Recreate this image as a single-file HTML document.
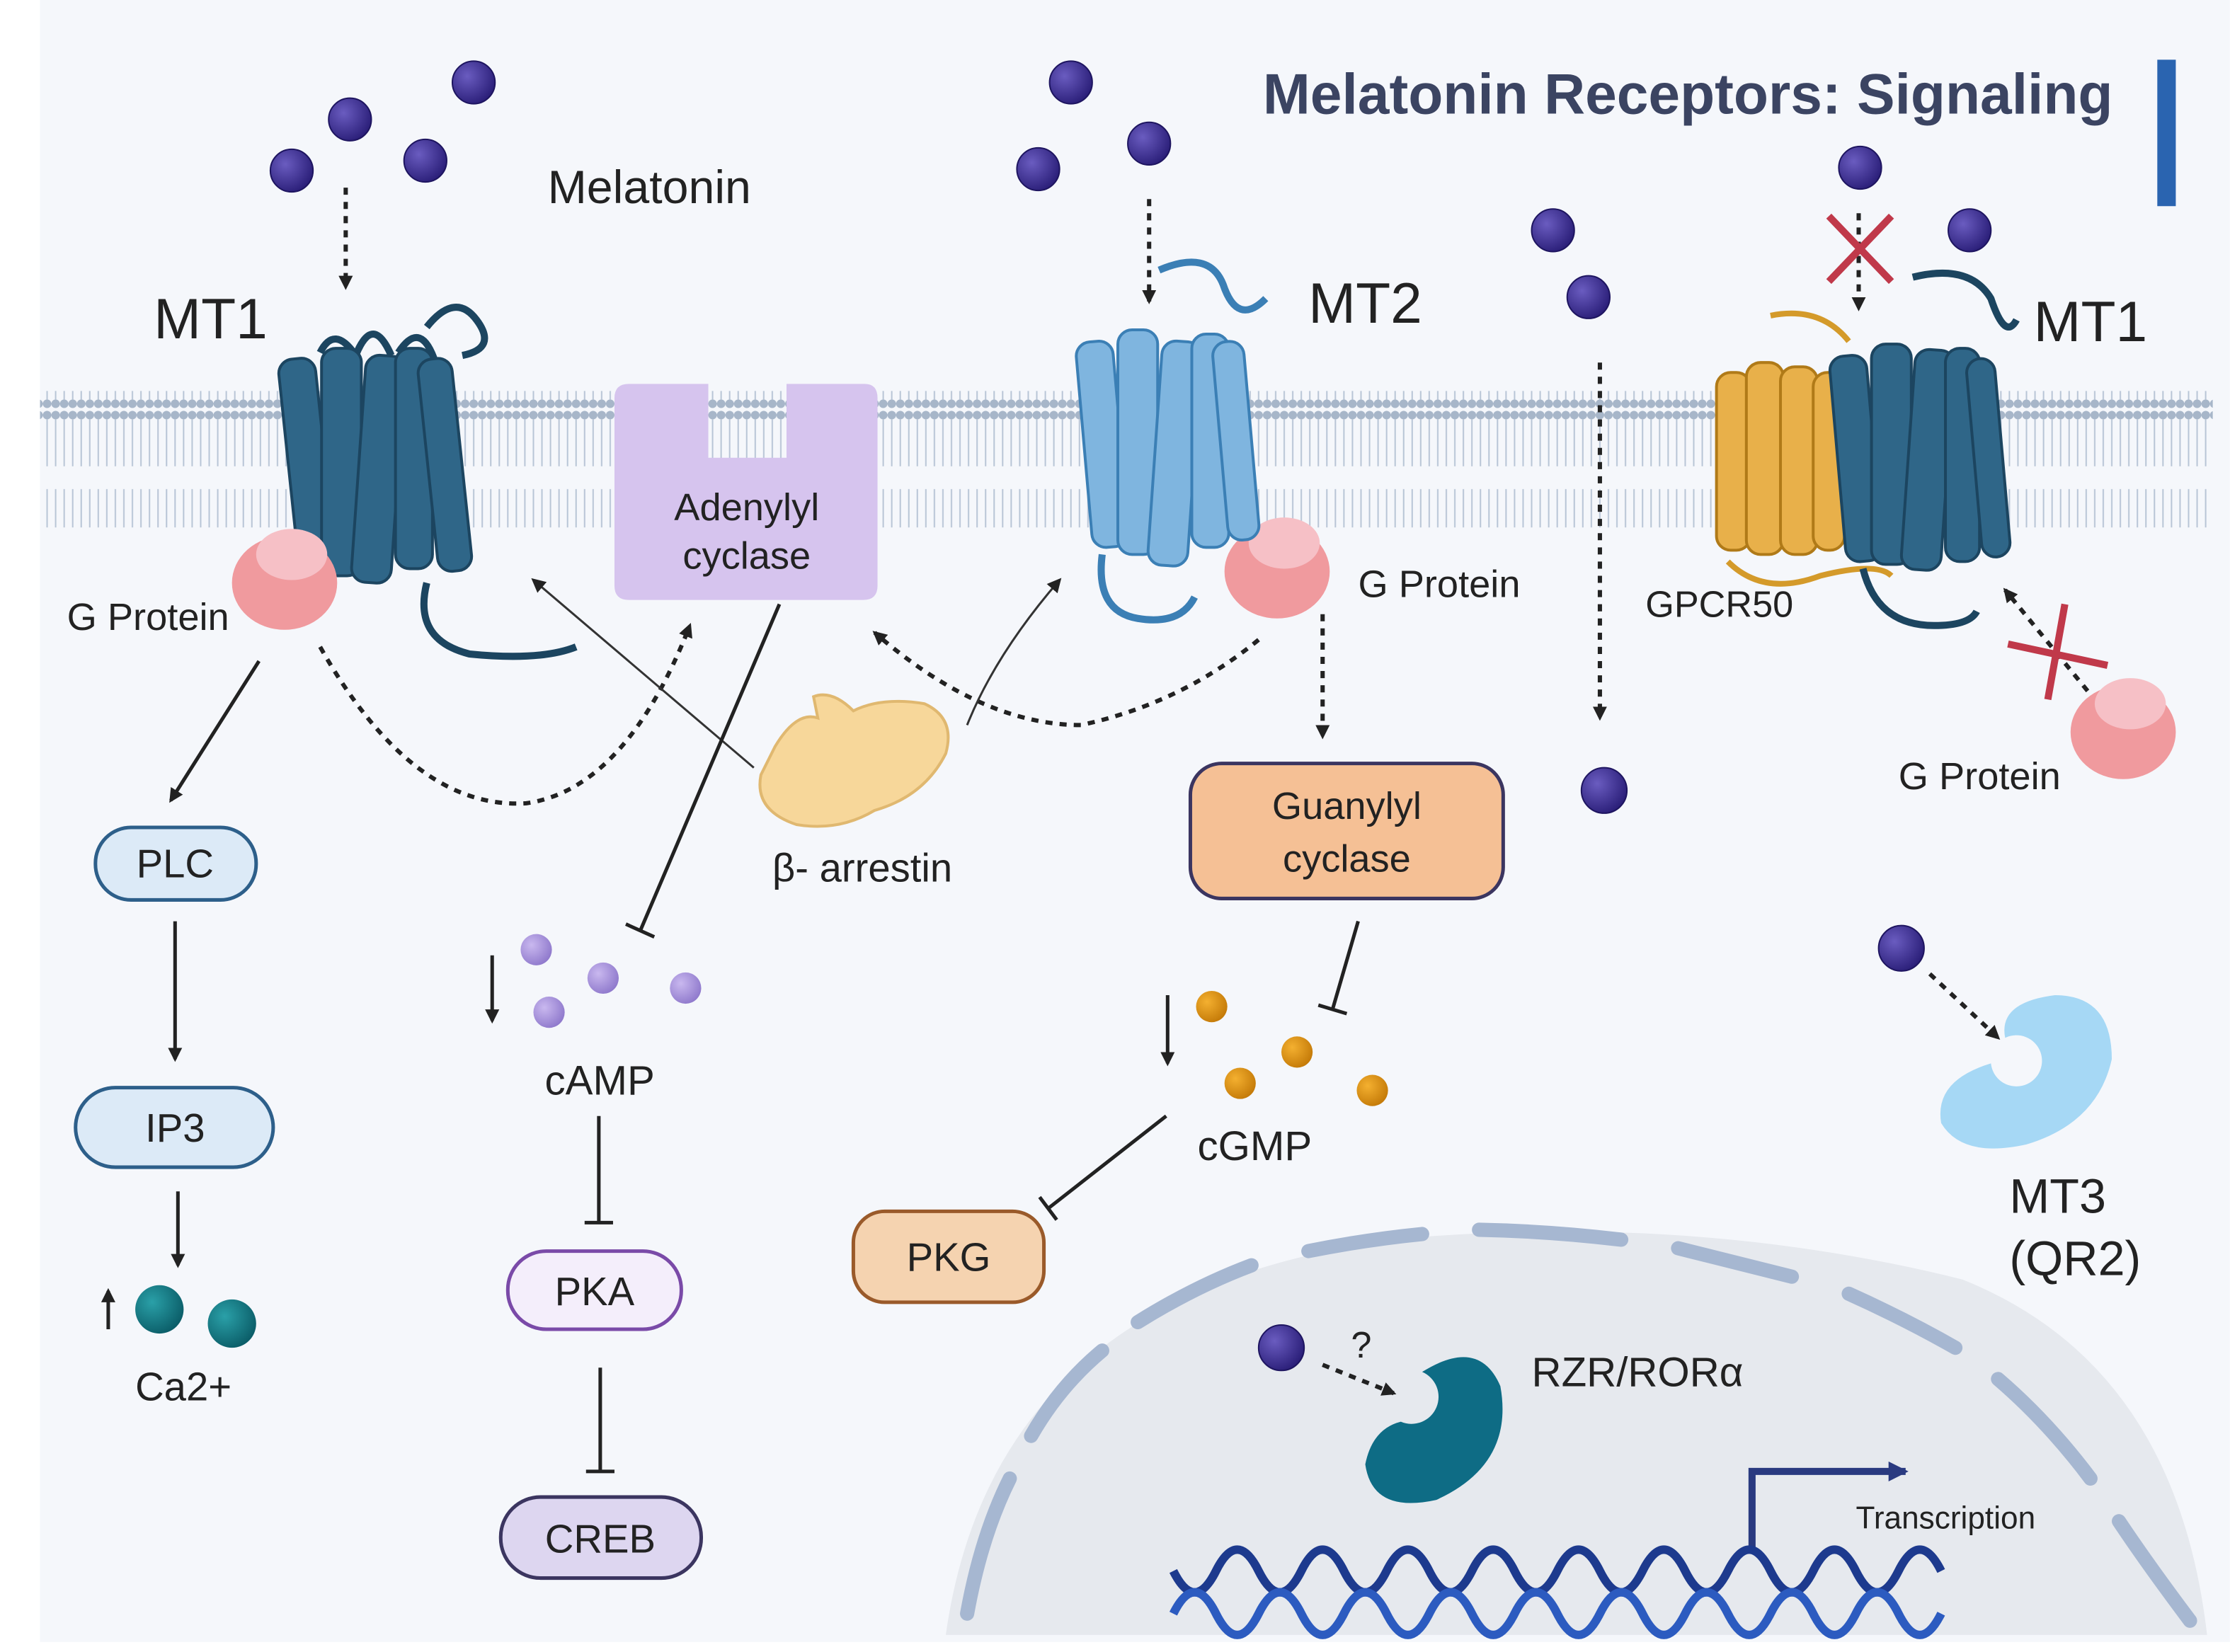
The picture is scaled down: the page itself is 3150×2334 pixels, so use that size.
<!DOCTYPE html>
<html><head><meta charset="utf-8"><style>
html,body{margin:0;padding:0;background:#fff;}
svg{display:block;}
text{font-family:"Liberation Sans",sans-serif;fill:#222;}
</style></head><body>
<svg width="3150" height="2334" viewBox="0 0 1568 1162" xmlns="http://www.w3.org/2000/svg">
<defs>
<radialGradient id="mel" cx="0.35" cy="0.35" r="0.7"><stop offset="0" stop-color="#6a5cc0"/><stop offset="1" stop-color="#2a1e78"/></radialGradient>
<radialGradient id="teal" cx="0.35" cy="0.35" r="0.7"><stop offset="0" stop-color="#2aa0a8"/><stop offset="1" stop-color="#0b5d68"/></radialGradient>
<radialGradient id="lav" cx="0.35" cy="0.35" r="0.7"><stop offset="0" stop-color="#c9b8ef"/><stop offset="1" stop-color="#8f79cc"/></radialGradient>
<radialGradient id="org" cx="0.35" cy="0.35" r="0.7"><stop offset="0" stop-color="#f4b030"/><stop offset="1" stop-color="#c47a08"/></radialGradient>
<pattern id="mem" x="0" y="0" width="6" height="96" patternUnits="userSpaceOnUse">
<circle cx="3" cy="4" r="3" fill="#a7b6c9"/><line x1="3" y1="7" x2="3" y2="40" stroke="#b8c5d6" stroke-width="1"/>
<line x1="3" y1="56" x2="3" y2="89" stroke="#b8c5d6" stroke-width="1"/><circle cx="3" cy="92" r="3" fill="#a7b6c9"/>
</pattern>
<marker id="ah" markerWidth="10" markerHeight="10" refX="8" refY="5" orient="auto" markerUnits="userSpaceOnUse"><path d="M0,0 L10,5 L0,10 z" fill="#222"/></marker>
<marker id="ahn" markerWidth="14" markerHeight="14" refX="12" refY="7" orient="auto" markerUnits="userSpaceOnUse"><path d="M0,0 L14,7 L0,14 z" fill="#2a3a80"/></marker>
</defs>
<rect x="28" y="0" width="1540" height="1155" fill="#f5f7fb"/>
<rect x="28" y="275" width="1528" height="96" fill="url(#mem)"/>
<path d="M665,1150 Q700,900 1000,870 Q1200,855 1380,900 Q1530,960 1552,1150 Z" fill="#e6e9ee"/>
<g stroke="#a6b7d1" stroke-width="10" stroke-linecap="round" fill="none">
<path d="M680,1135 Q690,1080 710,1040"/><path d="M725,1010 Q745,975 775,950"/><path d="M800,930 Q840,905 880,890"/>
<path d="M920,880 Q960,872 1000,868"/><path d="M1040,865 Q1090,866 1140,872"/><path d="M1180,878 Q1220,888 1260,898"/>
<path d="M1300,910 Q1340,928 1375,948"/><path d="M1405,970 Q1440,1000 1470,1040"/><path d="M1490,1070 Q1510,1100 1540,1140"/>
</g>
<text x="888" y="80" font-size="40" font-weight="bold" style="fill:#3b4462">Melatonin Receptors: Signaling</text>
<rect x="1517" y="42" width="13" height="103" fill="#2a64b0"/>
<g fill="url(#mel)" stroke="#1e1560" stroke-width="1">
<circle cx="333" cy="58" r="15"/><circle cx="246" cy="84" r="15"/><circle cx="205" cy="120" r="15"/><circle cx="299" cy="113" r="15"/>
<circle cx="753" cy="58" r="15"/><circle cx="730" cy="119" r="15"/><circle cx="808" cy="101" r="15"/>
<circle cx="1308" cy="118" r="15"/><circle cx="1092" cy="162" r="15"/><circle cx="1385" cy="162" r="15"/><circle cx="1117" cy="209" r="15"/>
<circle cx="1128" cy="556" r="16"/><circle cx="1337" cy="667" r="16"/><circle cx="901" cy="948" r="16"/>
</g>
<text x="385" y="143" font-size="33">Melatonin</text>
<g stroke="#222" stroke-width="3" stroke-dasharray="5,5" fill="none" marker-end="url(#ah)">
<line x1="243" y1="132" x2="243" y2="202"/><line x1="808" y1="140" x2="808" y2="212"/>
<line x1="1125" y1="255" x2="1125" y2="505"/><line x1="1307" y1="150" x2="1307" y2="217"/>
<line x1="930" y1="432" x2="930" y2="518"/><line x1="1468" y1="486" x2="1410" y2="415"/>
<line x1="1357" y1="685" x2="1405" y2="730"/><line x1="930" y1="960" x2="980" y2="980"/>
<path d="M225,455 Q290,570 370,565 Q440,555 485,440"/>
<path d="M885,450 Q830,495 760,510 Q690,510 615,445"/>
</g>
<text x="950" y="955" font-size="26">?</text>
<g stroke="#c0394a" stroke-width="5">
<line x1="1286" y1="152" x2="1330" y2="198"/><line x1="1330" y1="152" x2="1286" y2="198"/>
<line x1="1412" y1="453" x2="1482" y2="468"/><line x1="1452" y1="425" x2="1440" y2="492"/>
</g>
<g fill="#2f6688" stroke="#1c4560" stroke-width="2">
<path d="M250,250 Q262,220 275,250 M280,248 Q295,225 305,252 M225,248 Q235,228 250,250" fill="none" stroke="#1c4560" stroke-width="5"/>
<rect x="202" y="252" width="26" height="150" rx="10" transform="rotate(-6 215 320)"/>
<rect x="226" y="245" width="28" height="160" rx="10"/>
<rect x="252" y="250" width="28" height="160" rx="10" transform="rotate(4 266 330)"/>
<rect x="278" y="245" width="26" height="155" rx="10"/>
<rect x="300" y="252" width="24" height="150" rx="10" transform="rotate(-6 312 320)"/>
<path d="M300,230 Q320,205 335,225 T325,250" fill="none" stroke-width="5"/>
<path d="M300,410 Q290,450 330,460 Q380,465 405,455" fill="none" stroke-width="5"/>
</g>
<g>
<ellipse cx="200" cy="410" rx="37" ry="33" fill="#f09a9e"/><ellipse cx="205" cy="390" rx="25" ry="18" fill="#f6c0c6"/>
<ellipse cx="898" cy="402" rx="37" ry="33" fill="#f09a9e"/><ellipse cx="903" cy="382" rx="25" ry="18" fill="#f6c0c6"/>
<ellipse cx="1493" cy="515" rx="37" ry="33" fill="#f09a9e"/><ellipse cx="1498" cy="495" rx="25" ry="18" fill="#f6c0c6"/>
</g>
<text x="47" y="443" font-size="27">G Protein</text>
<text x="955" y="420" font-size="27">G Protein</text>
<text x="1335" y="555" font-size="27">G Protein</text>
<text x="108" y="238" font-size="40">MT1</text>
<text x="920" y="227" font-size="40">MT2</text>
<text x="1430" y="240" font-size="40">MT1</text>
<g fill="#7fb5df" stroke="#3b7fb5" stroke-width="2">
<rect x="762" y="240" width="26" height="145" rx="10" transform="rotate(-5 775 310)"/>
<rect x="786" y="232" width="28" height="158" rx="10"/>
<rect x="812" y="240" width="28" height="158" rx="10" transform="rotate(4 826 320)"/>
<rect x="838" y="235" width="26" height="150" rx="10"/>
<rect x="858" y="240" width="22" height="140" rx="10" transform="rotate(-5 869 310)"/>
<path d="M815,190 Q850,175 860,200 Q870,230 890,210" fill="none" stroke="#3b7fb5" stroke-width="5"/>
<path d="M775,390 Q770,430 800,435 Q830,440 840,420" fill="none" stroke="#3b7fb5" stroke-width="5"/>
</g>
<g fill="#e8b04a" stroke="#b07a18" stroke-width="2">
<rect x="1207" y="262" width="24" height="125" rx="10"/><rect x="1228" y="255" width="26" height="135" rx="10"/>
<rect x="1252" y="258" width="26" height="132" rx="10"/><rect x="1275" y="262" width="22" height="125" rx="10"/>
<path d="M1215,395 Q1240,420 1280,405 Q1320,395 1330,405" fill="none" stroke="#d49a2a" stroke-width="4"/>
<path d="M1245,222 Q1280,215 1300,240" fill="none" stroke="#d49a2a" stroke-width="4"/>
</g>
<g fill="#2f6688" stroke="#1c4560" stroke-width="2">
<rect x="1292" y="250" width="26" height="145" rx="10" transform="rotate(-5 1305 320)"/>
<rect x="1316" y="242" width="28" height="155" rx="10"/>
<rect x="1342" y="246" width="28" height="155" rx="10" transform="rotate(4 1356 320)"/>
<rect x="1368" y="245" width="24" height="150" rx="10"/>
<rect x="1388" y="252" width="20" height="140" rx="10" transform="rotate(-5 1398 320)"/>
<path d="M1345,195 Q1385,185 1400,210 Q1410,240 1418,225" fill="none" stroke-width="5"/>
<path d="M1310,400 Q1320,440 1360,440 Q1385,440 1390,430" fill="none" stroke-width="5"/>
</g>
<text x="1157" y="434" font-size="26">GPCR50</text>
<path d="M442,270 H498 V322 H553 V270 H608 Q617,270 617,280 V412 Q617,422 607,422 H442 Q432,422 432,412 V280 Q432,270 442,270 Z" fill="#d6c4ee"/>
<text x="525" y="366" font-size="27" text-anchor="middle">Adenylyl</text>
<text x="525" y="400" font-size="27" text-anchor="middle">cyclase</text>
<path d="M545,525 Q560,500 575,505 L572,490 Q585,485 600,500 Q620,490 650,495 Q672,505 665,530 Q650,560 615,570 Q590,585 560,580 Q530,570 535,545 Z" fill="#f7d79a" stroke="#e0b870" stroke-width="2"/>
<text x="543" y="620" font-size="28">β- arrestin</text>
<g stroke="#333" stroke-width="1.5" fill="none" marker-end="url(#ah)">
<line x1="530" y1="540" x2="375" y2="408"/><path d="M680,510 Q700,460 745,408"/>
</g>
<g stroke="#222" stroke-width="2.5" marker-end="url(#ah)">
<line x1="182" y1="465" x2="120" y2="563"/><line x1="123" y1="648" x2="123" y2="745"/>
<line x1="125" y1="838" x2="125" y2="890"/><line x1="76" y1="935" x2="76" y2="908"/>
<line x1="346" y1="672" x2="346" y2="718"/><line x1="821" y1="700" x2="821" y2="748"/>
</g>
<g stroke="#222" stroke-width="2.5">
<line x1="548" y1="425" x2="450" y2="655"/><line x1="440" y1="650" x2="460" y2="659"/>
<line x1="421" y1="785" x2="421" y2="860"/><line x1="411" y1="860" x2="431" y2="860"/>
<line x1="422" y1="962" x2="422" y2="1035"/><line x1="412" y1="1035" x2="432" y2="1035"/>
<line x1="955" y1="648" x2="937" y2="710"/><line x1="927" y1="707" x2="947" y2="713"/>
<line x1="820" y1="785" x2="737" y2="850"/><line x1="731" y1="842" x2="743" y2="858"/>
</g>
<rect x="67" y="582" width="113" height="51" rx="25" fill="#dceaf7" stroke="#2d5f8a" stroke-width="2.5"/>
<text x="123" y="617" font-size="28" text-anchor="middle">PLC</text>
<rect x="53" y="765" width="139" height="56" rx="28" fill="#dceaf7" stroke="#2d5f8a" stroke-width="2.5"/>
<text x="123" y="803" font-size="28" text-anchor="middle">IP3</text>
<circle cx="112" cy="921" r="17" fill="url(#teal)"/><circle cx="163" cy="931" r="17" fill="url(#teal)"/>
<text x="95" y="985" font-size="28">Ca2+</text>
<g fill="url(#lav)"><circle cx="377" cy="668" r="11"/><circle cx="424" cy="688" r="11"/><circle cx="482" cy="695" r="11"/><circle cx="386" cy="712" r="11"/></g>
<text x="383" y="770" font-size="29">cAMP</text>
<rect x="357" y="880" width="122" height="55" rx="27" fill="#f4eefb" stroke="#7a4aa8" stroke-width="2.5"/>
<text x="418" y="918" font-size="28" text-anchor="middle">PKA</text>
<rect x="352" y="1053" width="141" height="57" rx="28" fill="#ddd6f0" stroke="#3b3560" stroke-width="2.5"/>
<text x="422" y="1092" font-size="28" text-anchor="middle">CREB</text>
<rect x="837" y="537" width="220" height="95" rx="22" fill="#f5c095" stroke="#3b3560" stroke-width="2.5"/>
<text x="947" y="576" font-size="27" text-anchor="middle">Guanylyl</text>
<text x="947" y="613" font-size="27" text-anchor="middle">cyclase</text>
<g fill="url(#org)"><circle cx="852" cy="708" r="11"/><circle cx="912" cy="740" r="11"/><circle cx="872" cy="762" r="11"/><circle cx="965" cy="767" r="11"/></g>
<text x="842" y="816" font-size="29">cGMP</text>
<rect x="600" y="852" width="134" height="64" rx="22" fill="#f5d3b0" stroke="#9a5a2a" stroke-width="2.5"/>
<text x="667" y="894" font-size="28" text-anchor="middle">PKG</text>
<path d="M1410,730 A18,18 0 1,1 1400,748 Q1360,760 1365,790 Q1380,815 1425,805 Q1475,790 1485,745 Q1485,700 1445,700 Q1405,705 1410,730 Z" fill="#a6d8f5"/>
<text x="1413" y="853" font-size="34">MT3</text>
<text x="1413" y="897" font-size="34">(QR2)</text>
<path d="M1000,965 Q1040,940 1055,975 Q1065,1030 1010,1055 Q965,1065 960,1030 Q965,1005 985,1000 A18,18 0 1,0 1000,965 Z" fill="#0e6c85"/>
<text x="1077" y="975" font-size="29">RZR/RORα</text>
<path d="M1232,1092 V1035 H1340" fill="none" stroke="#2a3a80" stroke-width="5" marker-end="url(#ahn)"/>
<text x="1305" y="1075" font-size="22">Transcription</text>
<g fill="none" stroke="#1d3a8e" stroke-width="6">
<path d="M825,1105 q15,30 30,0 t30,0 t30,0 t30,0 t30,0 t30,0 t30,0 t30,0 t30,0 t30,0 t30,0 t30,0 t30,0 t30,0 t30,0 t30,0 t30,0 t30,0"/>
<path d="M825,1135 q15,-30 30,0 t30,0 t30,0 t30,0 t30,0 t30,0 t30,0 t30,0 t30,0 t30,0 t30,0 t30,0 t30,0 t30,0 t30,0 t30,0 t30,0 t30,0" stroke="#2c5bc0"/>
</g>
</svg>
</body></html>
